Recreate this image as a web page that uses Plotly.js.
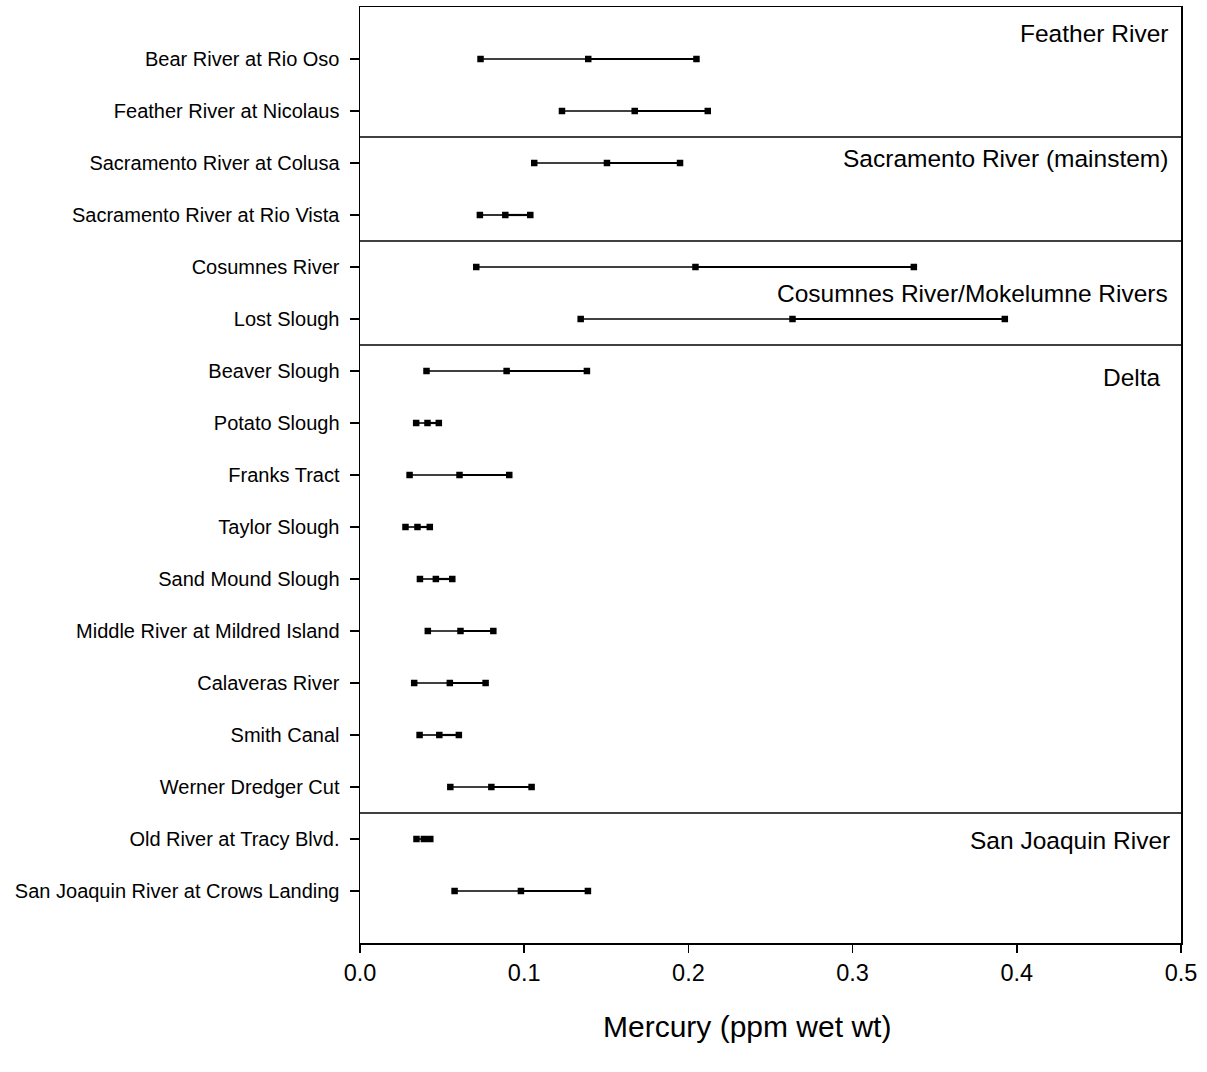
<!DOCTYPE html>
<html><head><meta charset="utf-8">
<script src="https://cdn.plot.ly/plotly-3.0.1.min.js"></script>
<style>html,body{margin:0;padding:0;background:#fff;}#chart{width:1207px;height:1072px;}</style>
</head><body><div id="chart"></div>
<script>
const sites = ["Bear River at Rio Oso","Feather River at Nicolaus","Sacramento River at Colusa","Sacramento River at Rio Vista","Cosumnes River","Lost Slough","Beaver Slough","Potato Slough","Franks Tract","Taylor Slough","Sand Mound Slough","Middle River at Mildred Island","Calaveras River","Smith Canal","Werner Dredger Cut","Old River at Tracy Blvd.","San Joaquin River at Crows Landing"];
const low  = [0.0734,0.1230,0.1061,0.0730,0.0708,0.1344,0.0405,0.0342,0.0302,0.0277,0.0365,0.0413,0.0330,0.0363,0.0550,0.0344,0.0576];
const mid  = [0.1390,0.1673,0.1504,0.0885,0.2043,0.2634,0.0893,0.0411,0.0606,0.0350,0.0462,0.0612,0.0547,0.0483,0.0800,0.0389,0.0980];
const high = [0.2049,0.2118,0.1949,0.1037,0.3373,0.3927,0.1382,0.0480,0.0909,0.0425,0.0562,0.0812,0.0765,0.0602,0.1045,0.0428,0.1388];
const groupNames = ["Feather River","Sacramento River (mainstem)","Cosumnes River/Mokelumne Rivers","Delta","San Joaquin River"];
const groupLabelPos = [0.5,2.92,5.5,7.12,16.02];
const groupLabelX = [0.4933,0.4930,0.4933,0.4890,0.4945];
const groupDividers = [2.5,4.5,6.5,15.5];
const xTicks = [0,0.1,0.2,0.3,0.4,0.5];
const xTickText = ["0.0","0.1","0.2","0.3","0.4","0.5"];
const xTitle = "Mercury (ppm wet wt)";

const pos = sites.map((s,i)=>i+1);
const FONT = "Liberation Sans, Arial, sans-serif";

const lx=[],ly=[],rx=[],ry=[],mx=[],my=[];
sites.forEach((s,i)=>{
  lx.push(low[i],mid[i],null); ly.push(pos[i],pos[i],null);
  rx.push(mid[i],high[i],null); ry.push(pos[i],pos[i],null);
  mx.push(low[i],mid[i],high[i]); my.push(pos[i],pos[i],pos[i]);
});

const traces = [
  {x:lx,y:ly,type:'scatter',mode:'lines',line:{color:'#000',width:1.6},hoverinfo:'skip',showlegend:false},
  {x:rx,y:ry,type:'scatter',mode:'lines',line:{color:'#000',width:2.2},hoverinfo:'skip',showlegend:false},
  {x:mx,y:my,type:'scatter',mode:'markers',marker:{symbol:'square',size:6.5,color:'#000'},showlegend:false}
];

const shapes = groupDividers.map(v=>({type:'line',xref:'paper',x0:0,x1:1,yref:'y',y0:v,y1:v,line:{color:'#000',width:1.5}}));
const annotations = groupNames.map((g,i)=>({text:g,xref:'x',x:groupLabelX[i],yref:'y',y:groupLabelPos[i],xanchor:'right',yanchor:'middle',showarrow:false,font:{family:FONT,size:24.5,color:'#000'}}));
annotations.push({text:xTitle,xref:'paper',x:0.471,yref:'paper',y:-0.0897,xanchor:'center',yanchor:'middle',showarrow:false,font:{family:FONT,size:30,color:'#000'}});

const layout = {
  width:1207,height:1072,
  margin:{l:360,r:26,t:7,b:129},
  paper_bgcolor:'#fff',plot_bgcolor:'#fff',
  font:{family:FONT,color:'#000'},
  showlegend:false,
  xaxis:{range:[0,0.5],tickvals:xTicks,ticktext:xTickText,ticks:'outside',ticklen:8,tickwidth:1.5,tickcolor:'#000',
    showline:true,linecolor:'#000',linewidth:1.5,mirror:true,showgrid:false,zeroline:false,
    tickfont:{family:FONT,size:23.5,color:'#000'}},
  yaxis:{range:[18,0],tickvals:pos,ticktext:sites,ticks:'outside',ticklen:9,tickwidth:1.5,tickcolor:'#000',
    showline:true,linecolor:'#000',linewidth:1.5,mirror:true,showgrid:false,zeroline:false,
    ticklabelstandoff:6,
    tickfont:{family:FONT,size:20,color:'#000'}},
  shapes:shapes,
  annotations:annotations
};
Plotly.newPlot('chart',traces,layout,{displayModeBar:false,staticPlot:true});
</script>
</body></html>
